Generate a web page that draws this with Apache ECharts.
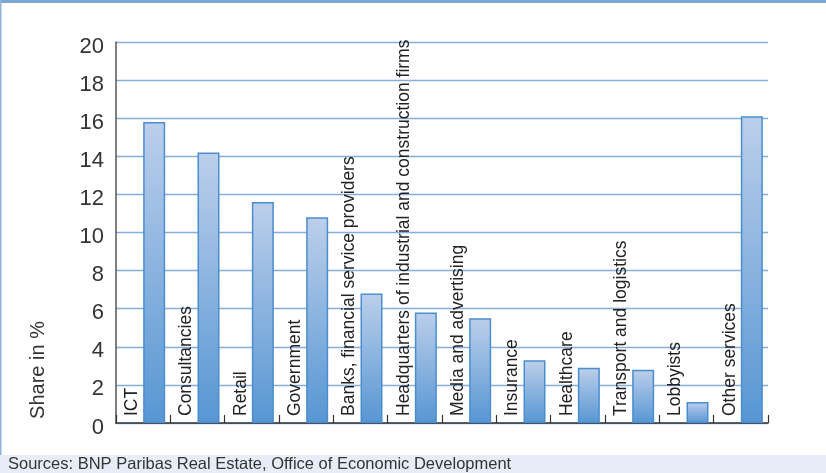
<!DOCTYPE html>
<html>
<head>
<meta charset="utf-8">
<script src="https://cdn.jsdelivr.net/npm/echarts@6/dist/echarts.min.js"></script>
<style>
html,body{margin:0;padding:0;background:#fff;}
#chart{width:826px;height:473px;}
</style>
</head>
<body>
<div id="chart"></div>
<script>
const categories = ["ICT", "Consultancies", "Retail", "Government", "Banks, financial service providers", "Headquarters of industrial and construction firms", "Media and advertising", "Insurance", "Healthcare", "Transport and logistics", "Lobbyists", "Other services"];
const shareValues = [15.8, 14.2, 11.6, 10.8, 6.8, 5.8, 5.5, 3.3, 2.9, 2.8, 1.1, 16.1];
const yTicks = [0, 2, 4, 6, 8, 10, 12, 14, 16, 18, 20];
const axisTitle = "Share in %";
const sourceText = "Sources: BNP Paribas Real Estate, Office of Economic Development";

const chart = echarts.init(document.getElementById('chart'), null, {renderer: 'canvas'});
const FONT = '"Liberation Sans", Arial, Helvetica, sans-serif';

chart.setOption({
  backgroundColor: '#ffffff',
  animation: false,
  grid: {left: 116, right: 58, top: 42, bottom: 50, containLabel: false},
  xAxis: {
    type: 'category',
    data: categories,
    boundaryGap: true,
    axisLine: {show: true, lineStyle: {color: '#333', width: 1.5}},
    axisTick: {show: true, inside: true, length: 8, interval: 0, lineStyle: {color: '#333', width: 1.2}},
    axisLabel: {show: false},
    splitLine: {show: false}
  },
  yAxis: {
    type: 'value',
    min: yTicks[0],
    max: yTicks[yTicks.length - 1],
    interval: yTicks[1] - yTicks[0],
    axisLine: {show: true, lineStyle: {color: '#555', width: 1.5}},
    axisTick: {show: false},
    axisLabel: {
      color: '#333',
      fontSize: 22,
      fontFamily: FONT,
      margin: 12,
      verticalAlign: 'top',
      lineHeight: 9
    },
    splitLine: {show: true, lineStyle: {color: '#86afe0', width: 1.4}}
  },
  series: [
    {
      type: 'bar',
      name: 'labels',
      data: categories.map(() => 0),
      barWidth: 22,
      barGap: '0%',
      itemStyle: {color: 'rgba(0,0,0,0)'},
      silent: true,
      label: {
        show: true,
        position: 'insideBottom',
        distance: 7,
        rotate: 90,
        align: 'left',
        verticalAlign: 'middle',
        color: '#222',
        fontSize: 17.5,
        fontFamily: FONT,
        formatter: (p) => categories[p.dataIndex]
      }
    },
    {
      type: 'bar',
      name: axisTitle,
      data: shareValues,
      barWidth: 22,
      barGap: '0%',
      itemStyle: {
        color: new echarts.graphic.LinearGradient(0, 0, 0, 1, [
          {offset: 0, color: '#bccfeb'},
          {offset: 1, color: '#5796d3'}
        ], false),
        borderColor: '#4a8ed0',
        borderWidth: 1.5
      }
    }
  ],
  graphic: [
    {type: 'rect', left: 0, top: 0, shape: {width: 826, height: 3}, style: {fill: '#7ba7d8'}, silent: true},
    {type: 'rect', left: 0, top: 0, shape: {width: 1.5, height: 455}, style: {fill: '#8fb4e0'}, silent: true},
    {type: 'rect', left: 0, top: 455, shape: {width: 826, height: 18}, style: {fill: '#e7edf7'}, silent: true},
    {type: 'text', x: 8, y: 464.5, style: {text: sourceText, fill: '#333', font: '16.5px ' + FONT, textAlign: 'left', textVerticalAlign: 'middle'}, silent: true},
    {type: 'text', x: 38, y: 370, rotation: Math.PI / 2, style: {text: axisTitle, fill: '#333', font: '20px ' + FONT, textAlign: 'center', textVerticalAlign: 'middle'}, silent: true}
  ]
});
</script>
</body>
</html>
